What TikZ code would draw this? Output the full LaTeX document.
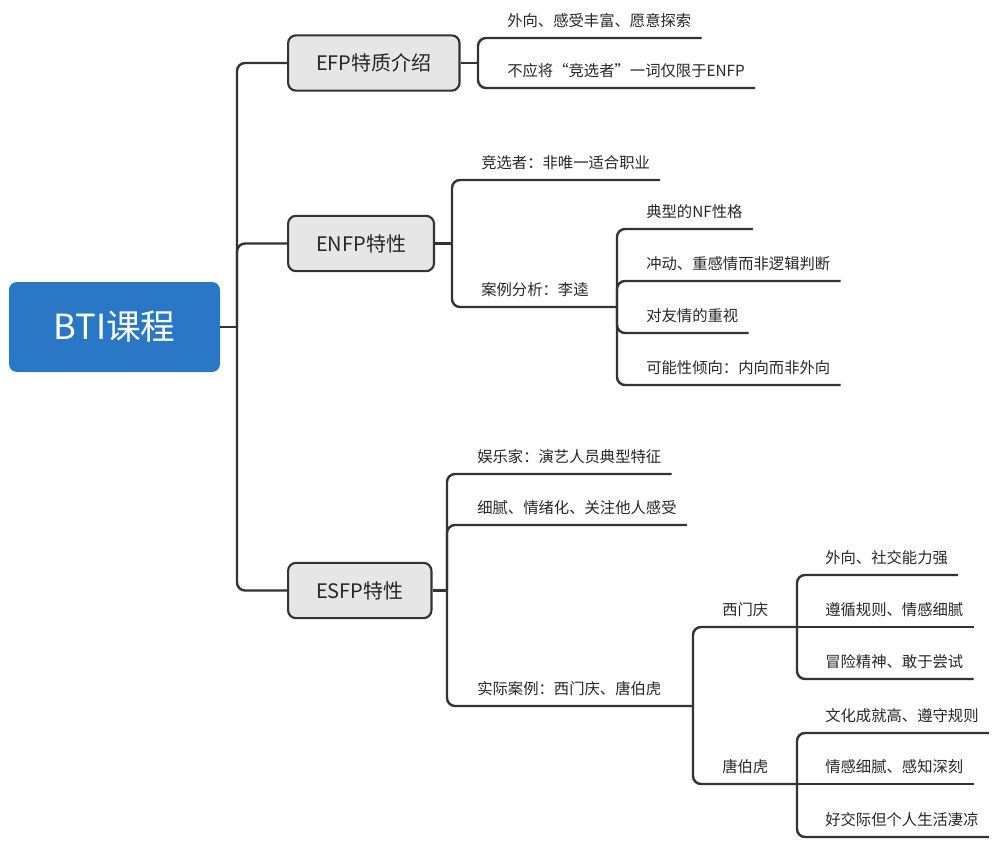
\documentclass[tikz,border=0pt]{standalone}
\usepackage{fontspec}
\newfontfamily\cjk{Noto Sans CJK SC}
\usetikzlibrary{positioning}
\definecolor{rootblue}{HTML}{2A78C5}
\definecolor{boxgray}{HTML}{E6E6E6}
\definecolor{linegray}{HTML}{333333}
\tikzset{
  root/.style={rectangle, rounded corners=6pt, fill=rootblue, text=white,
    font=\cjk\fontsize{26}{30}\selectfont, minimum width=158.25pt, minimum height=67.5pt},
  topic/.style={rectangle, rounded corners=6pt, draw=linegray, line width=1.6pt,
    fill=boxgray, text=black!85, font=\cjk\fontsize{15}{18}\selectfont,
    minimum height=41.5pt, inner xsep=21pt, anchor=west},
  leaf/.style={font=\cjk\fontsize{11.5}{14}\selectfont, text=black!85,
    inner xsep=7.5pt, inner ysep=7.5pt, anchor=south west},
  branch/.style={draw=linegray, line width=1.8pt, rounded corners=6pt},
}

\begin{document}
\begin{tikzpicture}[x=0.75pt, y=-0.75pt]
  \useasboundingbox (0,0) rectangle (1000,845);

  % Root
  \node[root] (bti) at (114.5,327) {BTI课程};

  % Main topics
  \node[topic] (efp) at (287,63) {EFP特质介绍};
  \node[topic] (enfp) at (287,243.5) {ENFP特性};
  \node[topic] (esfp) at (287,590.5) {ESFP特性};

  \coordinate (jroot) at (237,327);
  \draw[branch] (bti.east) -- (jroot);
  \foreach \t in {efp,enfp,esfp}
    \draw[branch] (jroot) |- (\t.west);

  % EFP
  \coordinate (jefp) at (478,63);
  \draw[branch] (efp.east) -- (jefp);
  \node[leaf] (e1) at (497,38) {外向、感受丰富、愿意探索};
  \node[leaf] (e2) at (497,88) {不应将“竞选者”一词仅限于ENFP};
  \foreach \l in {e1,e2}
    \draw[branch] (jefp) |- (\l.south east);

  % ENFP
  \coordinate (jenfp) at (452,243.5);
  \draw[branch] (enfp.east) -- (jenfp);
  \node[leaf] (n1) at (471,180) {竞选者：非唯一适合职业};
  \node[leaf] (n2) at (471,307) {案例分析：李逵};
  \coordinate (jcase) at (617,307);
  \draw[branch] (jenfp) |- (n1.south east);
  \draw[branch] (jenfp) |- (jcase);

  \node[leaf] (c1) at (636,229) {典型的NF性格};
  \node[leaf] (c2) at (636,281) {冲动、重感情而非逻辑判断};
  \node[leaf] (c3) at (636,333) {对友情的重视};
  \node[leaf] (c4) at (636,385) {可能性倾向：内向而非外向};
  \foreach \l in {c1,c2,c3,c4}
    \draw[branch] (jcase) |- (\l.south east);

  % ESFP
  \coordinate (jesfp) at (447,590.5);
  \draw[branch] (esfp.east) -- (jesfp);
  \node[leaf] (s1) at (467,474) {娱乐家：演艺人员典型特征};
  \node[leaf] (s2) at (467,525) {细腻、情绪化、关注他人感受};
  \node[leaf] (s3) at (467,706) {实际案例：西门庆、唐伯虎};
  \coordinate (jreal) at (693,706);
  \draw[branch] (jesfp) |- (s1.south east);
  \draw[branch] (jesfp) |- (s2.south east);
  \draw[branch] (jesfp) |- (jreal);

  % real cases
  \node[leaf] (xi) at (712,627) {西门庆};
  \node[leaf] (tang) at (712,784) {唐伯虎};
  \coordinate (jxi) at (797,627);
  \coordinate (jtang) at (797,784);
  \draw[branch] (jreal) |- (jxi);
  \draw[branch] (jreal) |- (jtang);

  \node[leaf] (x1) at (815,575) {外向、社交能力强};
  \node[leaf] (x2) at (815,627) {遵循规则、情感细腻};
  \node[leaf] (x3) at (815,679) {冒险精神、敢于尝试};
  \draw[branch] (jxi) |- (x1.south east);
  \draw[branch] (jxi) -- (x2.south east);
  \draw[branch] (jxi) |- (x3.south east);

  \node[leaf] (t1) at (815,733) {文化成就高、遵守规则};
  \node[leaf] (t2) at (815,784) {情感细腻、感知深刻};
  \node[leaf] (t3) at (815,837) {好交际但个人生活凄凉};
  \draw[branch] (jtang) |- (t1.south east);
  \draw[branch] (jtang) -- (t2.south east);
  \draw[branch] (jtang) |- (t3.south east);
\end{tikzpicture}
\end{document}
